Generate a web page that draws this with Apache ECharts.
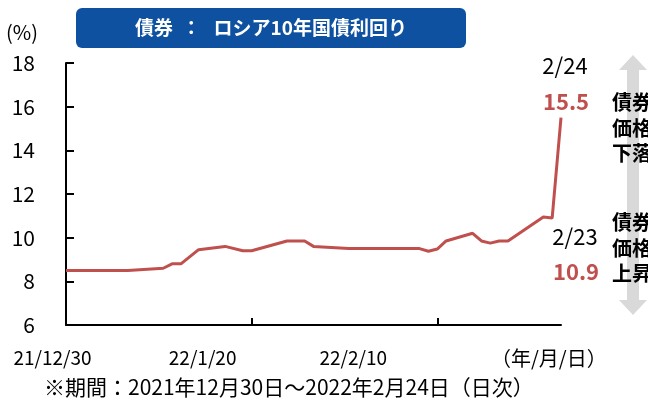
<!DOCTYPE html>
<html>
<head>
<meta charset="utf-8">
<script src="https://cdn.jsdelivr.net/npm/echarts@6/dist/echarts.min.js"></script>
<style>
  html, body { margin: 0; padding: 0; background: #fff; }
  #chart { width: 648px; height: 400px; }
</style>
</head>
<body>
<div id="chart"></div>
<script>
// ロシア10年国債利回り（%）
const startDate = '2021-12-30'
const dates = [
  '2021-12-30', '2022-01-06', '2022-01-10', '2022-01-11', '2022-01-12', '2022-01-14',
  '2022-01-17', '2022-01-19', '2022-01-20', '2022-01-24', '2022-01-26', '2022-01-27',
  '2022-01-31', '2022-02-08', '2022-02-09', '2022-02-10', '2022-02-11', '2022-02-14',
  '2022-02-15', '2022-02-16', '2022-02-17', '2022-02-18', '2022-02-22', '2022-02-23',
  '2022-02-24'
]
const yields = [
  8.5, 8.5, 8.6, 8.8, 8.8, 9.45,
  9.6, 9.4, 9.4, 9.85, 9.85, 9.6,
  9.5, 9.5, 9.38, 9.48, 9.85, 10.2,
  9.85, 9.75, 9.85, 9.85, 10.95, 10.9,
  15.5
]
const xTickLabels = ['21/12/30', '22/1/20', '22/2/10']
const yTicks = [6, 8, 10, 12, 14, 16, 18]

const dayOf = d => Math.round((new Date(d) - new Date(startDate)) / 86400000)
const seriesData = dates.map((d, i) => [dayOf(d), yields[i]])
const lastDay = dayOf(dates[dates.length - 1])

const font = '"Noto Sans CJK JP", "Noto Sans", sans-serif'
const red = '#c0504d'

const chart = echarts.init(document.getElementById('chart'))

// ラベル位置の微調整（目盛りより左に寄せる）
const labelShift = [27, 98, 168]
const rich = {}
labelShift.forEach((p, i) => {
  rich['l' + i] = { fontSize: 19, fontFamily: font, color: '#000', padding: [0, p, 0, 0] }
})

const option = {
  animation: false,
  grid: { left: 66, right: 87, top: 63, bottom: 75 },
  xAxis: {
    type: 'value',
    min: 0,
    max: lastDay,
    interval: 21,
    axisLine: { lineStyle: { color: '#000', width: 2 } },
    axisTick: { inside: true, length: 7, lineStyle: { color: '#000', width: 2 } },
    splitLine: { show: false },
    axisLabel: {
      margin: 23,
      showMaxLabel: false,
      rich: rich,
      formatter: v => {
        const i = Math.round(v / 21)
        return xTickLabels[i] ? '{l' + i + '|' + xTickLabels[i] + '}' : ''
      }
    }
  },
  yAxis: {
    type: 'value',
    min: yTicks[0],
    max: yTicks[yTicks.length - 1],
    interval: 2,
    axisLine: { show: true, lineStyle: { color: '#000', width: 2 } },
    axisTick: { show: true, inside: true, length: 8, lineStyle: { color: '#000', width: 2 } },
    splitLine: { show: false },
    axisLabel: { margin: 31, fontSize: 21, color: '#000', fontFamily: font, padding: [0, 0, 5, 0] }
  },
  series: [
    {
      type: 'line',
      data: seriesData,
      symbol: 'none',
      lineStyle: { color: red, width: 3 }
    }
  ],
  graphic: [
    {
      type: 'rect',
      shape: { x: 76, y: 8, width: 390, height: 40, r: 6 },
      style: { fill: '#0d51a0' }
    },
    {
      type: 'text', x: 271, y: 28,
      style: { text: '債券  ：   ロシア10年国債利回り', fill: '#fff', font: 'bold 19px ' + font, align: 'center', verticalAlign: 'middle' }
    },
    {
      type: 'text', x: 6, y: 32,
      style: { text: '(%)', fill: '#000', font: '20px ' + font, verticalAlign: 'middle' }
    },
    {
      type: 'text', x: 491, y: 358,
      style: { text: '（年/月/日）', fill: '#000', font: '20px ' + font, verticalAlign: 'middle' }
    },
    {
      type: 'text', x: 44, y: 387,
      style: { text: '※期間：2021年12月30日～2022年2月24日（日次）', fill: '#000', font: '21px ' + font, verticalAlign: 'middle' }
    },
    // 右側の矢印
    {
      type: 'polygon',
      shape: {
        points: [[633, 55], [647, 70], [639, 70], [639, 300], [647, 300], [633, 315],
          [619, 300], [627, 300], [627, 70], [619, 70]]
      },
      style: { fill: '#d9d9d9' }
    },
    {
      type: 'text', x: 612, y: 128,
      style: { text: '債券\n価格\n下落', fill: '#000', font: 'bold 20px ' + font, lineHeight: 25.5, verticalAlign: 'middle' }
    },
    {
      type: 'text', x: 612, y: 248,
      style: { text: '債券\n価格\n上昇', fill: '#000', font: 'bold 20px ' + font, lineHeight: 25.5, verticalAlign: 'middle' }
    },
    {
      type: 'text', x: 565, y: 66,
      style: { text: '2/24', fill: '#000', font: '22px ' + font, align: 'center', verticalAlign: 'middle' }
    },
    {
      type: 'text', x: 566, y: 102,
      style: { text: yields[yields.length - 1].toFixed(1), fill: red, font: 'bold 22px ' + font, align: 'center', verticalAlign: 'middle' }
    },
    {
      type: 'text', x: 575, y: 237,
      style: { text: '2/23', fill: '#000', font: '22px ' + font, align: 'center', verticalAlign: 'middle' }
    },
    {
      type: 'text', x: 576, y: 272,
      style: { text: yields[yields.length - 2].toFixed(1), fill: red, font: 'bold 22px ' + font, align: 'center', verticalAlign: 'middle' }
    }
  ]
}

chart.setOption(option)
</script>
</body>
</html>
